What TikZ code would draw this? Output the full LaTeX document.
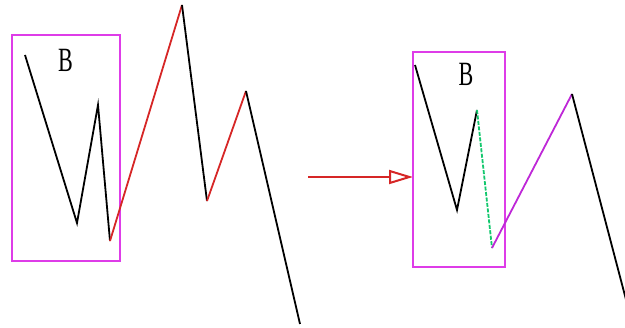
\documentclass[tikz,border=0pt]{standalone}
\usepackage{fontspec}
\setmainfont{Liberation Serif}
\usetikzlibrary{arrows.meta}

\definecolor{boxpink}{RGB}{222,60,232}
\definecolor{legred}{RGB}{214,38,38}
\definecolor{leggreen}{RGB}{20,200,110}
\definecolor{legviolet}{RGB}{190,40,215}

\tikzset{
  frame/.style={draw=boxpink, line width=2pt},
  leg/.style={line width=1.8pt, black},
  redleg/.style={leg, legred},
  label/.style={font=\fontsize{34}{34}\selectfont, xscale=0.65, inner sep=0pt}
}

\begin{document}
\begin{tikzpicture}[x=1pt, y=-1pt]

\useasboundingbox (0,0) rectangle (625,328);

% === LEFT: original swing ===
\begin{scope}
  \draw[frame] (12,35) rectangle (120,261);
  \node[label] (bleft) at (65.5,60.5) {B};

  \coordinate (l0) at (25,55);
  \coordinate (l1) at (77,223);
  \coordinate (l2) at (98,105);
  \coordinate (l3) at (110,241);
  \coordinate (l4) at (182,5);
  \coordinate (l5) at (207,201);
  \coordinate (l6) at (246,91);
  \coordinate (l7) at (300,324);

  \draw[leg] (l0) -- (l1) -- (l2) -- (l3);
  \draw[redleg] (l3) -- (l4);
  \draw[leg] (l4) -- (l5);
  \draw[redleg] (l5) -- (l6);
  \draw[leg] (l6) -- (l7);
\end{scope}

% === BRIDGE ===
\coordinate (from) at (308,177);
\coordinate (to) at (413,177);
\draw[legred, line width=1.8pt, -{Triangle[open, length=24pt, width=14pt, line width=2pt]}] (from) -- (to);

% === RIGHT: relabelled swing ===
\begin{scope}
  \draw[frame] (413,52) rectangle (505,267);
  \node[label] (bright) at (466,74.5) {B};

  \coordinate (r0) at (415,65);
  \coordinate (r1) at (457,210);
  \coordinate (r2) at (477,110);
  \coordinate (r3) at (492,248);
  \coordinate (r4) at (572,94);
  \coordinate (r5) at (634,330);

  \draw[leg] (r0) -- (r1) -- (r2);
  \draw[leg, leggreen, dashed, dash pattern=on 4pt off 1.5pt] (r2) -- (r3);
  \draw[leg, legviolet] (r3) -- (r4);
  \draw[leg] (r4) -- (r5);
\end{scope}

\end{tikzpicture}
\end{document}
